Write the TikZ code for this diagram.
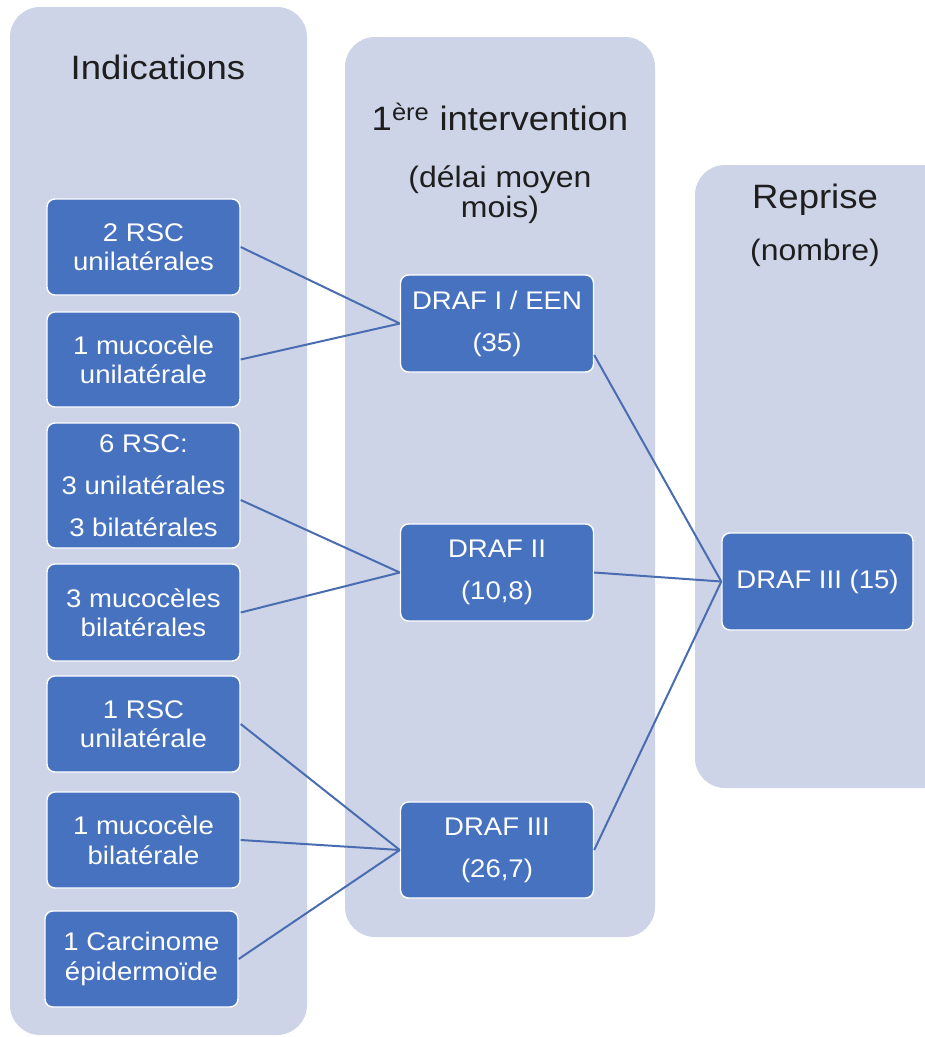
\documentclass[tikz,border=0pt]{standalone}
\usepackage{fontspec}
\setmainfont{Liberation Sans}[FakeStretch=1.08]
\definecolor{colbg}{HTML}{CDD4E8}
\definecolor{boxblue}{HTML}{4672C0}
\definecolor{linkblue}{HTML}{4A6DB2}
\definecolor{titletext}{HTML}{1E1E1E}
\begin{document}
\begin{tikzpicture}[x=1pt,y=-1pt,
  ind/.style={rectangle, rounded corners=8pt, fill=boxblue, draw=white, line width=1.4pt,
    text=white, minimum width=193pt, minimum height=96pt, align=center, inner sep=2pt,
    font=\fontsize{25.5}{29.5}\selectfont},
  indwide/.style={ind, font=\fontsize{25.5}{42}\selectfont},
  link/.style={draw=linkblue, line width=2pt},
  coltitle/.style={anchor=base, text=titletext, font=\fontsize{33.8}{40}\selectfont, inner sep=0pt},
  colsub/.style={anchor=base, text=titletext, font=\fontsize{29.6}{34}\selectfont, inner sep=0pt},
  colpanel/.style={fill=colbg, rounded corners=30pt}]
\useasboundingbox (0,0) rectangle (925,1037);
\clip (0,0) rectangle (925,1037);
% column panels
\fill[colpanel] (10,7) rectangle (307,1035);
\fill[colpanel] (345,37) rectangle (655,937);
\fill[colpanel] (695,165) rectangle (965,788);
% titles
\node[coltitle] (t1) at (158,79) {Indications};
\node[coltitle] (t2) at (500,130) {1\textsuperscript{ère} intervention};
\node[colsub] (t2a) at (500,187) {(délai moyen};
\node[colsub] (t2b) at (500,217) {mois)};
\node[coltitle] (t3) at (815,208) {Reprise};
\node[colsub] (t3a) at (815,260) {(nombre)};
% left boxes
\node[ind] (b1) at (143.5,247) {2 RSC\\unilatérales};
\node[ind, minimum height=95pt] (b2) at (143.5,359.5) {1 mucocèle\\unilatérale};
\node[indwide, minimum height=125pt] (b3) at (143.5,485.5) {6 RSC:\\3 unilatérales\\3 bilatérales};
\node[ind, minimum height=97pt] (b4) at (143.5,612.5) {3 mucocèles\\bilatérales};
\node[ind] (b5) at (143.5,724) {1 RSC\\unilatérale};
\node[ind] (b6) at (143.5,840) {1 mucocèle\\bilatérale};
\node[ind] (b7) at (141.5,959) {1 Carcinome\\épidermoïde};
% middle boxes
\node[indwide, minimum height=97pt] (m1) at (497,323.5) {DRAF I / EEN\\(35)};
\node[indwide, minimum height=97pt] (m2) at (497,572.5) {DRAF II\\(10,8)};
\node[indwide, minimum height=96pt] (m3) at (497,850) {DRAF III\\(26,7)};
% right box
\node[ind, minimum width=191pt, minimum height=97pt] (r) at (817.5,581.5) {DRAF III (15)};
% connectors
\draw[link] (b1.east) -- (m1.west);
\draw[link] (b2.east) -- (m1.west);
\draw[link] ([yshift=-14.5pt]b3.east) -- (m2.west);
\draw[link] (b4.east) -- (m2.west);
\draw[link] (b5.east) -- (m3.west);
\draw[link] (b6.east) -- (m3.west);
\draw[link] (b7.east) -- (m3.west);
\draw[link] ([yshift=-31.5pt]m1.east) -- (r.west);
\draw[link] (m2.east) -- (r.west);
\draw[link] (m3.east) -- (r.west);
\end{tikzpicture}
\end{document}
